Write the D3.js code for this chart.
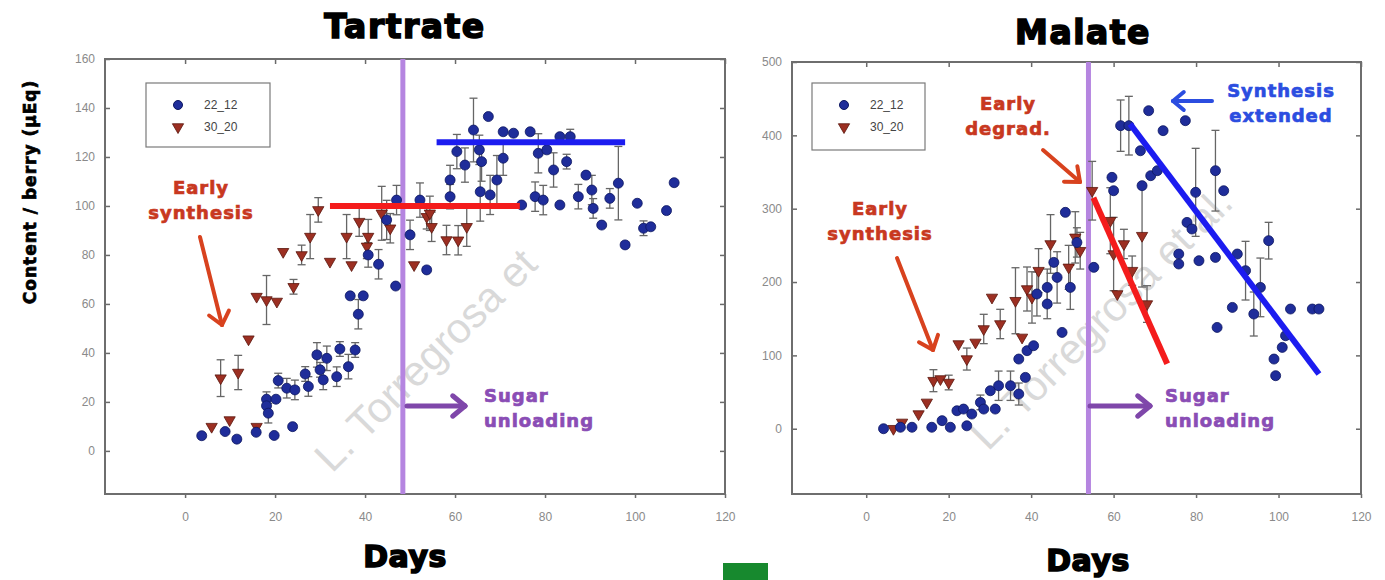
<!DOCTYPE html>
<html lang="en">
<head>
<meta charset="UTF-8">
<title>Tartrate / Malate</title>
<script src="https://d3js.org/d3.v7.min.js"></script>
<style>
  body { margin: 0; background: #fff; }
  svg { display: block; }
  .tick text { font-family: "Liberation Sans", Arial, sans-serif; font-size: 12px; fill: #8a8a8a; }
  .tick line { stroke: #6a6a6a; stroke-width: 1.5px; }
  .domain { display: none; }
  .heavy { font-family: "DejaVu Sans", sans-serif; font-weight: bold; }
</style>
</head>
<body>
<svg id="chart" width="1385" height="580"></svg>
<script>
// ---- data (days after flowering, content per berry) ----
const seriesNames = ["22_12", "30_20"];

// Tartrate, 22_12 (blue dots)
const tartBlueDays = [3.7, 8.9, 11.5, 15.8, 19.8, 23.9, 18.1, 18.1, 18.5, 20.2,
  20.7, 22.6, 24.4, 26.7, 27.4, 29.3, 30, 30.7, 31.5, 33.7,
  34.4, 36.3, 37.8, 36.7, 39.6, 38.5, 40.7, 43, 46.8, 44.8,
  47, 50, 53.7, 52.2, 58.9, 58.9, 60.4, 62.2, 64.1, 65.4,
  65.9, 65.6, 67.4, 67.8, 69.3, 70.7, 70.7, 73, 74.8, 76.7,
  77.8, 78.5, 79.6, 80.4, 81.9, 83.3, 83.3, 84.8, 85.6, 87.4,
  89.1, 90.4, 90.7, 92.6, 94.4, 96.3, 97.8, 100.5, 101.9, 103.5,
  107, 108.7];
const tartBlueVals = [6.2, 7.9, 4.8, 7.6, 6.3, 9.9, 21.1, 18.4, 15.4, 21.1,
  28.7, 25.6, 24.9, 31.4, 26.3, 39.2, 33.1, 29, 37.8, 30.3,
  41.6, 34.4, 41.2, 63.3, 63.3, 55.8, 80, 76.2, 67.3, 94.3,
  102.4, 88.2, 73.9, 102.4, 110.6, 103.8, 122.2, 116.7, 131, 122.9,
  118.1, 105.8, 136.5, 104.5, 110.6, 119.5, 130.3, 129.7, 100.4, 130.3,
  103.8, 121.5, 102.4, 122.9, 114.7, 100.4, 128.3, 118.1, 128.3, 103.8,
  112.6, 106.5, 99, 92.2, 103.1, 109.3, 84.1, 101.1, 90.9, 91.5,
  98.1, 109.5];
const tartBlueErr = [0, 0, 0, 0, 0, 0, 3, 0, 4, 0,
  3, 4, 4, 3, 4, 5, 3, 4, 5, 4,
  3, 5, 3, 0, 0, 6, 5, 6, 0, 8,
  6, 6, 0, 7, 6, 5, 7, 7, 13, 6,
  8, 12, 0, 8, 10, 7, 0, 0, 0, 0,
  6, 8, 6, 0, 7, 0, 0, 3, 3, 5,
  0, 6, 4, 0, 4, 15, 0, 0, 3, 0,
  0, 0];

// Tartrate, 30_20 (red triangles)
const tartRedDays = [5.9, 9.9, 7.9, 11.8, 14.1, 15.9, 15.9, 18.1, 20.4, 24.1,
  21.8, 25.9, 27.8, 29.6, 32.2, 35.9, 37, 38.7, 40.7, 40.4,
  43.7, 45.6, 50.9, 53.7, 54.4, 54.8, 58.1, 60.7, 62.6];
const tartRedVals = [9.9, 12.6, 29.7, 32, 45.6, 9.9, 63, 61.6, 61, 67,
  81.3, 80, 87.5, 98.4, 77.3, 87.5, 75.9, 93.6, 87.5, 83.5,
  97, 90.9, 75.9, 95.6, 97, 91.5, 86.1, 86, 91.5];
const tartRedErr = [0, 0, 7.5, 7, 0, 0, 0, 10, 0, 3,
  0, 4, 9, 5, 0, 9, 0, 6, 7, 5,
  11, 6, 0, 5, 7, 6, 6, 6, 8];

// Malate, 22_12 (blue dots)
const malBlueDays = [4.2, 8.3, 11.1, 15.9, 18.4, 20.4, 22, 23.6, 24.4, 25.6,
  27.7, 28.5, 30.1, 31.3, 32.1, 35, 37, 38.6, 37, 39,
  40.6, 41.4, 43.9, 43.9, 46.3, 47.5, 49.5, 45.5, 48.3, 51.1,
  55.2, 59.6, 60, 61.7, 63.7, 66.5, 68.5, 66.9, 69, 70.6,
  72, 77.4, 77.8, 79, 75.8, 75.8, 79.9, 80.7, 84.7, 84.7,
  86.7, 85.1, 88.8, 90, 92, 94, 95.6, 97.6, 98.9, 99.3,
  100.9, 102.9, 101.7, 108.2, 109.8];
const malBlueVals = [0, 2, 2, 2, 11, 2, 24.5, 26.8, 4, 20,
  35.9, 26.8, 51.8, 26.8, 58.6, 58.6, 47.3, 70, 95, 106.4,
  113.2, 183.7, 192.7, 170, 206.3, 131.3, 192.7, 226.8, 295, 254,
  220, 342.7, 324.5, 413.2, 413.2, 379, 433.6, 331.4, 345, 351.8,
  406.4, 420, 281.3, 272.3, 238.2, 224.6, 322.3, 229.1, 233.6, 351.8,
  324.5, 138.1, 165.4, 238.2, 215.5, 156.4, 192.7, 256.4, 95, 72.3,
  110.9, 163.2, 126.8, 163.2, 163.2];
const malBlueErr = [0, 0, 0, 0, 0, 0, 0, 0, 0, 0,
  10, 0, 0, 0, 20, 20, 15, 0, 0, 0,
  0, 30, 25, 20, 35, 0, 30, 0, 0, 20,
  0, 0, 0, 35, 40, 0, 0, 0, 0, 0,
  0, 0, 0, 0, 0, 0, 60, 0, 0, 55,
  0, 0, 0, 0, 40, 30, 40, 25, 0, 0,
  0, 0, 0, 0, 0];

// Malate, 30_20 (red triangles)
const malRedDays = [6.6, 8.7, 12.7, 14.7, 16.3, 18, 20, 22.4, 24.4, 26.5,
  28.5, 32.5, 30.5, 36.2, 37.8, 39, 40.2, 41.8, 44.7, 49.1,
  50.7, 51.9, 54.8, 59.2, 60, 62.5, 64.5, 66.9, 60.9, 68.1];
const malRedVals = [0, 8.6, 20, 35.9, 65.5, 67.8, 63, 115.5, 95, 117.7,
  136, 142.8, 179, 174.5, 124.5, 190.5, 179, 215.5, 251.9, 220,
  260.9, 242.7, 324.5, 283.6, 238.2, 251.9, 215.5, 263.2, 183.7, 170];
const malRedErr = [0, 0, 0, 0, 15, 0, 10, 0, 15, 0,
  20, 20, 0, 45, 0, 30, 35, 30, 40, 30,
  35, 25, 40, 45, 50, 20, 20, 70, 0, 25];

// trend lines [day, value] pairs
const tartRedTrend = [[32.2, 100], [74.4, 100]];
const tartBlueTrend = [[55.9, 126], [97.8, 126]];
const malRedTrend = [[55.1, 315], [73, 88.6]];
const malBlueTrend = [[64, 415.5], [109.8, 74.6]];

// start of sugar unloading (days)
const tartUnloading = 48.4;
const malUnloading = 53.9;

const xTicks = [0, 20, 40, 60, 80, 100, 120];
const tartYTicks = [0, 20, 40, 60, 80, 100, 120, 140, 160];
const malYTicks = [0, 100, 200, 300, 400, 500];

// ---- colours ----
const BLUE = "#1f2d9a", BLUE_EDGE = "#0c1660";
const RED = "#9c2f22", RED_EDGE = "#5a160e";
const PURPLE_LINE = "#b585e0", PURPLE = "#7f47aa";
const ANN_RED = "#c8381f", ANN_BLUE = "#2b4de0";

const svg = d3.select("#chart");
svg.append("rect").attr("width", 1385).attr("height", 580).attr("fill", "#fff");

function zip(d, v, e) { return d.map((x, i) => ({ d: x, v: v[i], e: e[i] })); }

function arrow(g, x1, y1, x2, y2, color, w, head) {
  const a = Math.atan2(y2 - y1, x2 - x1);
  g.append("line").attr("x1", x1).attr("y1", y1).attr("x2", x2).attr("y2", y2)
    .attr("stroke", color).attr("stroke-width", w).attr("stroke-linecap", "round");
  [Math.PI * 0.78, -Math.PI * 0.78].forEach(o => {
    g.append("line").attr("x1", x2).attr("y1", y2)
      .attr("x2", x2 + head * Math.cos(a + o)).attr("y2", y2 + head * Math.sin(a + o))
      .attr("stroke", color).attr("stroke-width", w).attr("stroke-linecap", "round");
  });
}

function label(g, x, y, lines, color, size, anchor) {
  const t = g.append("text").attr("class", "heavy").attr("x", x).attr("y", y)
    .attr("fill", color).attr("stroke", color).attr("stroke-width", 0.7)
    .attr("font-size", size).attr("letter-spacing", 1).attr("text-anchor", anchor || "middle");
  lines.forEach((s, i) => t.append("tspan").attr("x", x).attr("dy", i ? size * 1.38 : 0).text(s));
}

function drawPanel(p) {
  const x = d3.scaleLinear().domain(p.xDomain).range([p.left, p.right]);
  const y = d3.scaleLinear().domain(p.yDomain).range([p.bottom, p.top]);
  const g = svg.append("g");

  // watermark
  g.append("text").attr("transform", `translate(${p.wm[0]},${p.wm[1]}) rotate(-45)`)
    .attr("font-family", "Liberation Sans, Arial, sans-serif").attr("font-size", 42)
    .attr("fill", "#d9d9d9").text(p.wmText);

  // axes
  g.append("g").attr("transform", `translate(0,${p.bottom})`)
    .call(d3.axisBottom(x).tickValues(xTicks).tickSizeInner(4).tickSizeOuter(0).tickPadding(14));
  g.append("g").attr("transform", `translate(${p.left},0)`)
    .call(d3.axisLeft(y).tickValues(p.yTicks).tickSizeInner(-5).tickSizeOuter(0).tickPadding(10));
  g.append("g").attr("transform", `translate(${p.right},0)`)
    .call(d3.axisRight(y).tickValues(p.yTicks).tickSizeInner(-5).tickSizeOuter(0).tickFormat(""));
  g.append("g").attr("transform", `translate(0,${p.top})`)
    .call(d3.axisTop(x).tickValues(xTicks).tickSizeInner(-5).tickSizeOuter(0).tickFormat(""));

  g.append("rect").attr("x", p.left).attr("y", p.top)
    .attr("width", p.right - p.left).attr("height", p.bottom - p.top)
    .attr("fill", "none").attr("stroke", "#6e6e6e").attr("stroke-width", 2);

  // sugar unloading line
  g.append("line").attr("x1", x(p.unloading)).attr("x2", x(p.unloading))
    .attr("y1", p.top).attr("y2", p.bottom)
    .attr("stroke", PURPLE_LINE).attr("stroke-width", 5);

  // error bars
  const all = p.blue.concat(p.red).filter(o => o.e > 0);
  const eb = g.append("g").attr("stroke", "#666").attr("stroke-width", 1.3);
  all.forEach(o => {
    const cx = x(o.d);
    eb.append("line").attr("x1", cx).attr("x2", cx).attr("y1", y(o.v - o.e)).attr("y2", y(o.v + o.e));
    [o.v - o.e, o.v + o.e].forEach(v => eb.append("line")
      .attr("x1", cx - 4).attr("x2", cx + 4).attr("y1", y(v)).attr("y2", y(v)));
  });

  // red triangles then blue dots
  const tri = d3.symbol().type(d3.symbolTriangle).size(55);
  g.append("g").selectAll("path").data(p.red).join("path")
    .attr("d", tri).attr("transform", o => `translate(${x(o.d)},${y(o.v)}) rotate(180)`)
    .attr("fill", RED).attr("stroke", RED_EDGE).attr("stroke-width", 0.8);
  g.append("g").selectAll("circle").data(p.blue).join("circle")
    .attr("cx", o => x(o.d)).attr("cy", o => y(o.v)).attr("r", 5)
    .attr("fill", BLUE).attr("stroke", BLUE_EDGE).attr("stroke-width", 0.8);

  // trend lines
  const line = d3.line().x(o => x(o[0])).y(o => y(o[1]));
  g.append("path").attr("d", line(p.redTrend)).attr("stroke", "#f41c1c")
    .attr("stroke-width", 6).attr("fill", "none");
  g.append("path").attr("d", line(p.blueTrend)).attr("stroke", "#1c1cf0")
    .attr("stroke-width", 6).attr("fill", "none");

  // legend
  const lg = g.append("g").attr("transform", `translate(${p.legend[0]},${p.legend[1]})`);
  lg.append("rect").attr("width", p.legend[2]).attr("height", p.legend[3])
    .attr("fill", "#fff").attr("stroke", "#7a7a7a").attr("stroke-width", 1.2);
  lg.append("circle").attr("cx", 32).attr("cy", 22).attr("r", 4.5)
    .attr("fill", BLUE).attr("stroke", BLUE_EDGE);
  lg.append("path").attr("d", tri).attr("transform", "translate(32,44) rotate(180)")
    .attr("fill", RED).attr("stroke", RED_EDGE).attr("stroke-width", 0.8);
  seriesNames.forEach((s, i) => lg.append("text").attr("x", 58).attr("y", 26 + i * 22)
    .attr("font-family", "Liberation Sans, Arial, sans-serif").attr("font-size", 12)
    .attr("fill", "#444").text(s));

  // titles
  g.append("text").attr("class", "heavy").attr("x", p.titleX).attr("y", p.titleY)
    .attr("text-anchor", "middle").attr("font-size", 33).attr("letter-spacing", 1.5)
    .attr("stroke", "#000").attr("stroke-width", 1.6).text(p.title);
  g.append("text").attr("class", "heavy").attr("x", p.daysX).attr("y", p.daysY)
    .attr("text-anchor", "middle").attr("font-size", 30).attr("letter-spacing", 0.5)
    .attr("stroke", "#000").attr("stroke-width", 1.6).text("Days");
  return g;
}

const left = drawPanel({
  xDomain: [-17.8, 120], yDomain: [-17.6, 160], left: 105, right: 725, top: 59, bottom: 494,
  yTicks: tartYTicks, unloading: tartUnloading,
  blue: zip(tartBlueDays, tartBlueVals, tartBlueErr),
  red: zip(tartRedDays, tartRedVals, tartRedErr),
  redTrend: tartRedTrend, blueTrend: tartBlueTrend,
  legend: [146, 83, 124, 64], wm: [332, 474], wmText: "L. Torregrosa et",
  title: "Tartrate", titleX: 405, titleY: 38, daysX: 405, daysY: 567
});

const right = drawPanel({
  xDomain: [-18, 120], yDomain: [-89, 500], left: 792, right: 1361, top: 62, bottom: 494,
  yTicks: malYTicks, unloading: malUnloading,
  blue: zip(malBlueDays, malBlueVals, malBlueErr),
  red: zip(malRedDays, malRedVals, malRedErr),
  redTrend: malRedTrend, blueTrend: malBlueTrend,
  legend: [812, 83, 113, 67], wm: [988, 452], wmText: "L. Torregrosa et al.",
  title: "Malate", titleX: 1083, titleY: 44, daysX: 1088, daysY: 571
});

// y axis title
svg.append("text").attr("class", "heavy")
  .attr("transform", "translate(36,192) rotate(-90)")
  .attr("text-anchor", "middle").attr("font-size", 17).attr("letter-spacing", 1)
  .attr("stroke", "#000").attr("stroke-width", 0.7).text("Content / berry (µEq)");

// annotations, left panel
label(left, 201, 194, ["Early", "synthesis"], ANN_RED, 18);
arrow(left, 200, 237, 222, 325, "#d8421e", 4, 16);
arrow(left, 407, 406, 465, 406, PURPLE, 5, 16);
label(left, 484, 402, ["Sugar", "unloading"], "#8a4db5", 18, "start");

// annotations, right panel
label(right, 1008, 110, ["Early", "degrad."], ANN_RED, 18);
arrow(right, 1043, 150, 1080, 182, "#d8421e", 4, 16);
label(right, 880, 215, ["Early", "synthesis"], ANN_RED, 18);
arrow(right, 897, 258, 933, 350, "#d8421e", 4, 16);
arrow(right, 1090, 406, 1150, 406, PURPLE, 5, 16);
label(right, 1165, 402, ["Sugar", "unloading"], "#8a4db5", 18, "start");
arrow(right, 1212, 101, 1173, 101, ANN_BLUE, 4, 14);
label(right, 1281, 97, ["Synthesis", "extended"], ANN_BLUE, 18);

// small green block at the bottom
svg.append("rect").attr("x", 723).attr("y", 563).attr("width", 45).attr("height", 17).attr("fill", "#17892e");
</script>
</body>
</html>
